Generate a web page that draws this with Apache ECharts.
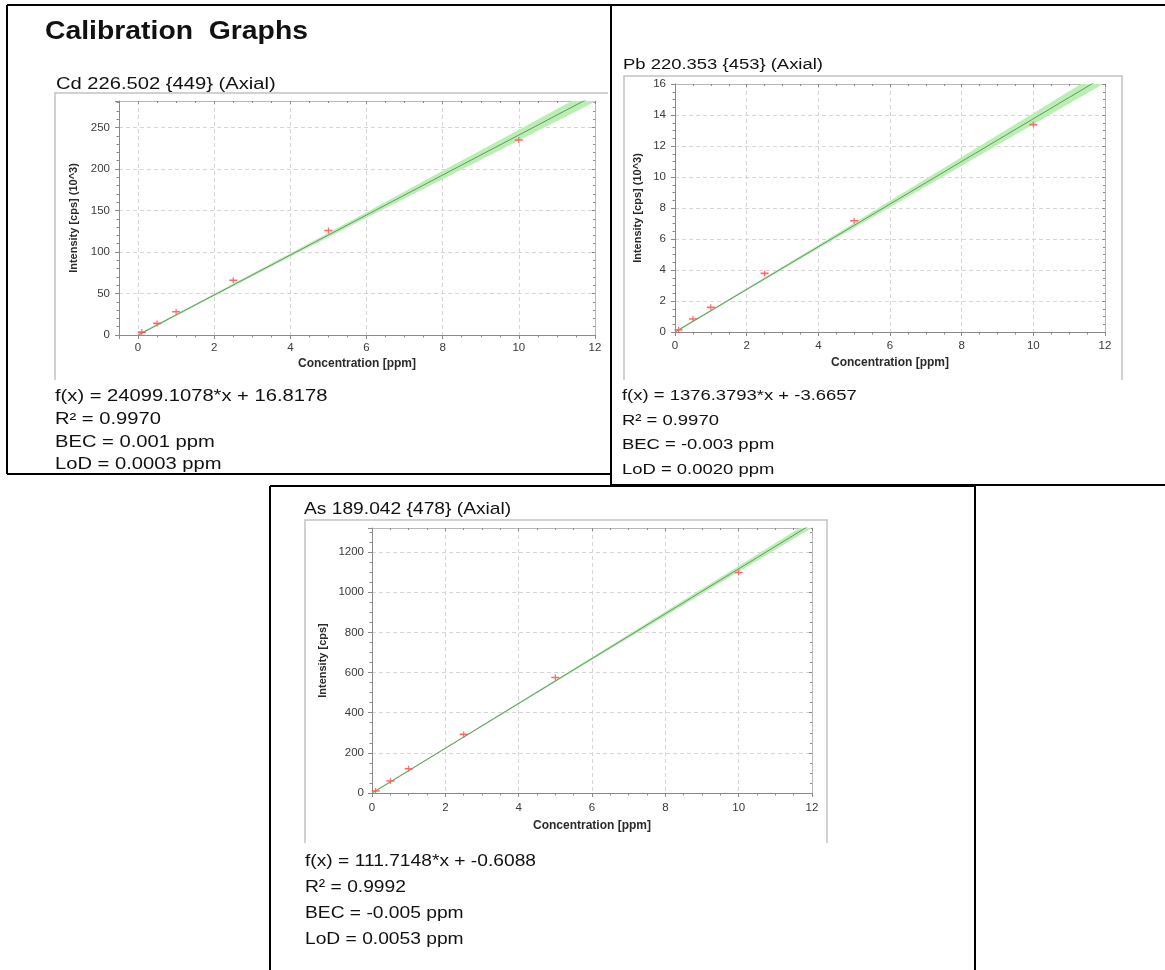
<!DOCTYPE html>
<html>
<head>
<meta charset="utf-8">
<script src="https://cdn.jsdelivr.net/npm/echarts@6/dist/echarts.min.js"></script>
<style>
html,body{margin:0;padding:0;background:#fff;}
#c{width:1165px;height:970px;}
</style>
</head>
<body>
<div id="c"></div>
<script>
// ---------------- data ----------------
// Cd 226.502 – intensity in 10^3 cps
const cdConc = [0.1, 0.5, 1, 2.5, 5, 10];
const cdIntensity = [3.5, 14, 28, 66, 126, 235];
const cdFitX = [0, 12];
const cdFitY = [0.02, 289.2];
const cdBandX = [0, 2, 4, 6, 8, 10, 12];
const cdBandLow = [-1.3, 46.7, 94.4, 141.3, 187.8, 234.5, 281.2];
const cdBandHigh = [1.3, 49.7, 98.4, 147.9, 197.8, 247.5, 297.2];

// Pb 220.353 – intensity in 10^3 cps
const pbConc = [0.1, 0.5, 1, 2.5, 5, 10];
const pbIntensity = [0.15, 0.84, 1.59, 3.78, 7.18, 13.38];
const pbFitX = [0, 12];
const pbFitY = [-0.004, 16.51];
const pbBandX = [0, 2, 4, 6, 8, 10, 12];
const pbBandLow = [-0.08, 2.67, 5.38, 8.05, 10.72, 13.40, 16.07];
const pbBandHigh = [0.07, 2.83, 5.62, 8.46, 11.29, 14.12, 16.95];

// As 189.042 – intensity in cps
const asConc = [0.1, 0.5, 1, 2.5, 5, 10];
const asIntensity = [10, 60, 121, 292, 575, 1098];
const asFitX = [0, 12];
const asFitY = [-0.61, 1339.97];
const asBandX = [0, 2, 4, 6, 8, 10, 12];
const asBandLow = [-4.6, 218.8, 441.2, 662.7, 882.1, 1102.5, 1321.0];
const asBandHigh = [3.4, 226.8, 451.2, 676.7, 904.1, 1130.5, 1359.0];

// texts
const pageTitle = 'Calibration  Graphs';
const cdTitle = 'Cd 226.502 {449} (Axial)';
const pbTitle = 'Pb 220.353 {453} (Axial)';
const asTitle = 'As 189.042 {478} (Axial)';
const cdStats = ['f(x) = 24099.1078*x + 16.8178', 'R\u00B2 = 0.9970', 'BEC = 0.001 ppm', 'LoD = 0.0003 ppm'];
const pbStats = ['f(x) = 1376.3793*x + -3.6657', 'R\u00B2 = 0.9970', 'BEC = -0.003 ppm', 'LoD = 0.0020 ppm'];
const asStats = ['f(x) = 111.7148*x + -0.6088', 'R\u00B2 = 0.9992', 'BEC = -0.005 ppm', 'LoD = 0.0053 ppm'];
const xAxisName = 'Concentration [ppm]';
const cdYName = 'Intensity [cps] (10^3)';
const pbYName = 'Intensity [cps] (10^3)';
const asYName = 'Intensity [cps]';

// ---------------- layout / styling ----------------
const FONT = '"Liberation Sans", Arial, Helvetica, sans-serif';

const panels = [
  { conc: cdConc, inten: cdIntensity, fitX: cdFitX, fitY: cdFitY, bandX: cdBandX, low: cdBandLow, high: cdBandHigh,
    grid: { left: 119, top: 101, width: 476, height: 234 },
    xMin: -0.5, xMax: 12, yMax: 282, yInt: 50, yMinor: 5, yName: cdYName,
    yNameGap: 40, xNameGap: 23, xLabelMargin: 7, yLabelMargin: 9 },
  { conc: pbConc, inten: pbIntensity, fitX: pbFitX, fitY: pbFitY, bandX: pbBandX, low: pbBandLow, high: pbBandHigh,
    grid: { left: 675, top: 84, width: 430, height: 248 },
    xMin: 0, xMax: 12, yMax: 16, yInt: 2, yMinor: 4, yName: pbYName,
    yNameGap: 32, xNameGap: 25, xLabelMargin: 8, yLabelMargin: 9 },
  { conc: asConc, inten: asIntensity, fitX: asFitX, fitY: asFitY, bandX: asBandX, low: asBandLow, high: asBandHigh,
    grid: { left: 372, top: 528, width: 440, height: 265 },
    xMin: 0, xMax: 12, yMax: 1320, yInt: 200, yMinor: 4, yName: asYName,
    yNameGap: 44, xNameGap: 27, xLabelMargin: 9, yLabelMargin: 8 }
];

const AXIS_DARK = '#8a8a8a';
const AXIS_LIGHT = '#b8b8b8';
const PLUS = 'path://M0,2.2H8V3.8H0Z M3.4,0H4.6V6H3.4Z';
const plainNumber = v => String(v);

const grids = [], xAxes = [], yAxes = [], series = [];

panels.forEach((p, k) => {
  grids.push(Object.assign({ outerBoundsMode: 'none', containLabel: false }, p.grid));

  const xTicks = (p.xMin % 2 === 0) ? { interval: 2 } : { minInterval: 2, maxInterval: 2, splitNumber: 6 };
  xAxes.push(Object.assign({
    type: 'value', gridIndex: k, position: 'bottom', min: p.xMin, max: p.xMax,
    axisLine: { show: true, onZero: false, lineStyle: { color: AXIS_DARK, width: 1 } },
    axisTick: { show: true, inside: false, length: 4, lineStyle: { color: AXIS_DARK } },
    minorTick: { show: true, splitNumber: 4, length: 2.5, lineStyle: { color: AXIS_DARK } },
    splitLine: { show: true, lineStyle: { color: '#d6d6d6', type: [4, 3], width: 1 } },
    axisLabel: { color: '#3a3a3a', fontSize: 11.5, fontFamily: FONT, margin: p.xLabelMargin,
                 showMinLabel: p.xMin === 0, formatter: plainNumber },
    name: xAxisName, nameLocation: 'middle', nameGap: p.xNameGap,
    nameTextStyle: { fontSize: 12, fontWeight: 'bold', color: '#2a2a2a', fontFamily: FONT }
  }, xTicks));
  xAxes.push(Object.assign({
    type: 'value', gridIndex: k, position: 'top', min: p.xMin, max: p.xMax,
    axisLine: { show: true, onZero: false, lineStyle: { color: AXIS_LIGHT, width: 1 } },
    axisTick: { show: true, inside: true, length: 3, lineStyle: { color: AXIS_DARK } },
    minorTick: { show: true, splitNumber: 4, length: 2, lineStyle: { color: AXIS_DARK } },
    splitLine: { show: false }, axisLabel: { show: false }
  }, xTicks));

  const yTicks = { interval: p.yInt };
  yAxes.push(Object.assign({
    type: 'value', gridIndex: k, position: 'left', min: 0, max: p.yMax,
    axisLine: { show: true, onZero: false, lineStyle: { color: AXIS_DARK, width: 1 } },
    axisTick: { show: true, inside: false, length: 4, lineStyle: { color: AXIS_DARK } },
    minorTick: { show: true, splitNumber: p.yMinor, length: 2.5, lineStyle: { color: AXIS_DARK } },
    splitLine: { show: true, lineStyle: { color: '#d6d6d6', type: [4, 3], width: 1 } },
    axisLabel: { color: '#3a3a3a', fontSize: 11.5, fontFamily: FONT, margin: p.yLabelMargin,
                 showMaxLabel: p.yMax % p.yInt === 0, formatter: plainNumber },
    name: p.yName, nameLocation: 'middle', nameGap: p.yNameGap,
    nameTextStyle: { fontSize: 11, fontWeight: 'bold', color: '#2a2a2a', fontFamily: FONT }
  }, yTicks));
  yAxes.push(Object.assign({
    type: 'value', gridIndex: k, position: 'right', min: 0, max: p.yMax,
    axisLine: { show: true, onZero: false, lineStyle: { color: AXIS_LIGHT, width: 1 } },
    axisTick: { show: true, inside: true, length: 3, lineStyle: { color: AXIS_DARK } },
    minorTick: { show: true, splitNumber: p.yMinor, length: 2, lineStyle: { color: AXIS_DARK } },
    splitLine: { show: false }, axisLabel: { show: false }
  }, yTicks));

  // confidence band
  series.push({
    type: 'custom', xAxisIndex: 2 * k, yAxisIndex: 2 * k, clip: true, silent: true, z: 2,
    data: p.bandX.map((x, i) => [x, p.low[i], p.high[i]]),
    encode: { x: 0, y: [1, 2] },
    renderItem: function (params, api) {
      if (params.dataIndex !== 0) return null;
      const pts = [];
      for (let i = 0; i < p.bandX.length; i++) pts.push(api.coord([p.bandX[i], p.high[i]]));
      for (let i = p.bandX.length - 1; i >= 0; i--) pts.push(api.coord([p.bandX[i], p.low[i]]));
      return { type: 'polygon', shape: { points: pts }, style: { fill: '#b9f0b2', stroke: null } };
    }
  });
  // regression line
  series.push({
    type: 'line', xAxisIndex: 2 * k, yAxisIndex: 2 * k, silent: true, z: 3,
    data: p.fitX.map((x, i) => [x, p.fitY[i]]),
    symbol: 'none', lineStyle: { color: '#66946a', width: 1 }
  });
  // calibration standards
  series.push({
    type: 'scatter', xAxisIndex: 2 * k, yAxisIndex: 2 * k, z: 5,
    data: p.conc.map((x, i) => [x, p.inten[i]]),
    symbol: PLUS, symbolSize: [8, 6], symbolKeepAspect: false,
    itemStyle: { color: '#ff5a5a', opacity: 0.9 },
    emphasis: { disabled: true }
  });
});

function blackLine(x1, y1, x2, y2) {
  return { type: 'line', shape: { x1, y1, x2, y2 }, style: { stroke: '#000', lineWidth: 2 }, z: 10, silent: true };
}
function panelFrame(points) {
  return { type: 'polyline', shape: { points }, style: { stroke: '#c2c2c2', lineWidth: 1.5, fill: null }, z: 1, silent: true };
}
function txt(x, y, text, size, sx, extra) {
  return { type: 'text', x, y, scaleX: sx, z: 10, silent: true,
    style: Object.assign({ text, fontSize: size, fontFamily: FONT, fill: '#111', verticalAlign: 'middle', align: 'left' }, extra || {}) };
}

const graphics = [
  // report boxes
  blackLine(7, 5, 1165, 5),
  blackLine(7, 5, 7, 474),
  blackLine(7, 474, 611, 474),
  blackLine(611, 5, 611, 486),
  blackLine(611, 485, 1165, 485),
  blackLine(270, 486, 975, 486),
  blackLine(270, 486, 270, 970),
  blackLine(975, 486, 975, 970),
  // chart panels
  panelFrame([[55, 380], [55, 93], [608, 93]]),
  panelFrame([[624, 380], [624, 76], [1122, 76], [1122, 380]]),
  panelFrame([[305, 843], [305, 520], [827, 520], [827, 843]]),
  // titles
  txt(45, 31.5, pageTitle, 26, 1.09, { fontWeight: 'bold' }),
  txt(56, 85, cdTitle, 16, 1.26),
  txt(623, 64.5, pbTitle, 15.5, 1.19),
  txt(304, 509, asTitle, 17, 1.13),
  // statistics
  txt(55, 385.5, cdStats.join('\n'), 16, 1.26, { verticalAlign: 'top', lineHeight: 22.7 }),
  txt(622, 383.7, pbStats.join('\n'), 15.5, 1.19, { verticalAlign: 'top', lineHeight: 24.6 }),
  txt(305, 848.8, asStats.join('\n'), 17, 1.13, { verticalAlign: 'top', lineHeight: 25.8 })
];

const chart = echarts.init(document.getElementById('c'), null, { renderer: 'canvas', width: 1165, height: 970 });
chart.setOption({
  animation: false,
  backgroundColor: '#ffffff',
  textStyle: { fontFamily: FONT },
  grid: grids,
  xAxis: xAxes,
  yAxis: yAxes,
  series: series,
  graphic: { elements: graphics }
});
</script>
</body>
</html>
